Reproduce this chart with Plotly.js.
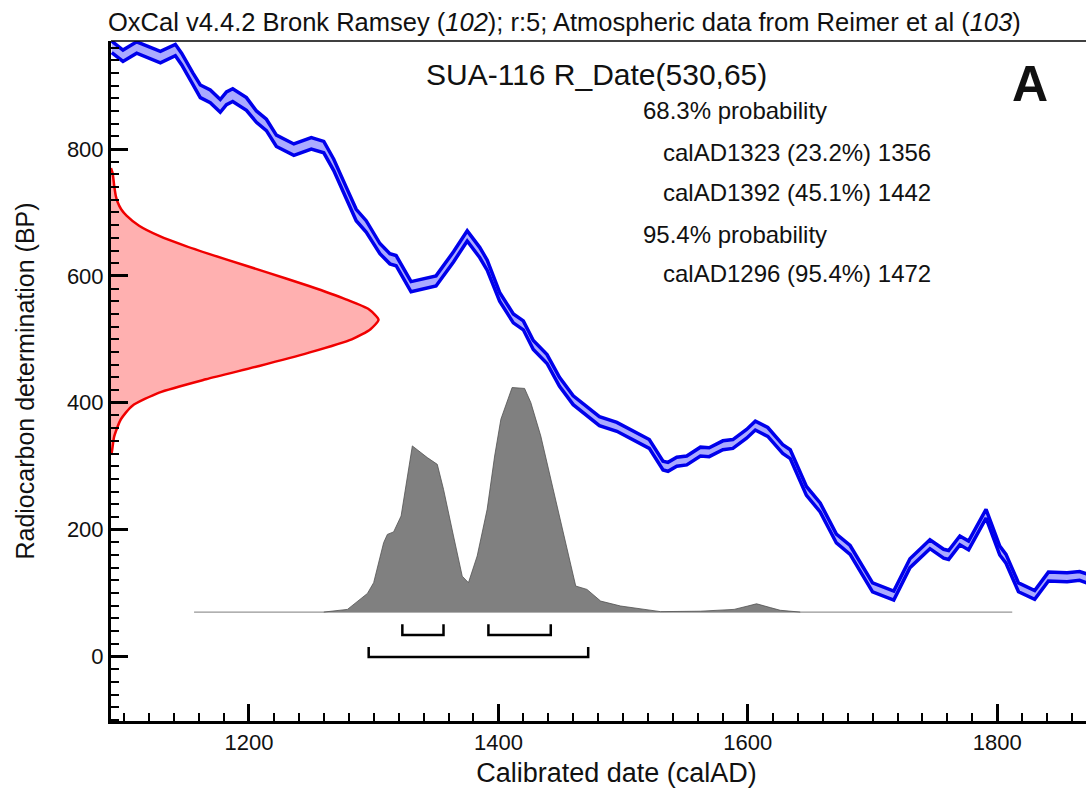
<!DOCTYPE html>
<html>
<head>
<meta charset="utf-8">
<script src="https://cdn.plot.ly/plotly-3.0.1.min.js"></script>
<style>
html,body{margin:0;padding:0;overflow:hidden;background:#fff;}
#chart{width:1122px;height:794px;}
</style>
</head>
<body>
<div id="chart"></div>
<script>
// ---- Calibration curve (IntCal, calAD vs BP, 1 sigma) ----
const calYears = [1090,1099,1110,1129,1141,1146,1155,1161,1169,1177,
  1182,1187,1198,1206,1214,1222,1236,1250,1260,1268,
  1278,1286,1294,1305,1313,1318,1330,1342,1350,1364,
  1375,1385,1391,1401,1412,1420,1428,1439,1449,1460,
  1468,1481,1495,1508,1521,1532,1536,1543,1551,1562,
  1569,1580,1588,1599,1606,1616,1628,1634,1647,1658,
  1671,1682,1700,1717,1730,1746,1757,1761,1770,1777,
  1791,1802,1807,1817,1830,1841,1856,1866,1872];
const calBP = [961,947,960,945,956,942,911,891,883,868,
  880,885,871,851,838,813,799,809,803,775,
  731,696,678,643,627,624,583,588,592,630,
  663,637,617,567,533,522,491,469,433,404,
  391,371,362,349,335,301,299,307,309,323,
  322,333,335,351,364,354,327,319,261,235,
  186,168,109,96,147,177,162,160,183,175,
  225,167,154,109,97,126,125,127,123];
const calSigma = [9,9,9,9,9,9,9,10,10,10,
  10,10,10,9,9,9,9,9,9,9,
  9,9,9,8,8,8,8,8,8,8,
  8,8,8,7,7,7,7,7,7,7,
  7,7,7,7,7,7,7,7,7,7,
  7,7,7,7,7,7,7,7,7,7,
  7,7,7,7,7,7,7,7,7,7,
  7,7,7,7,7,7,7,7,7];

// ---- Radiocarbon measurement R_Date(530,65): BP vs relative probability ----
const dateBP = [770,762,742,726,716,705,695,679,663,647,626,606,584,563,547,531,516,500,479,458,437,416,395,374,347,322,318];
const dateProb = [0,0.006,0.012,0.018,0.025,0.038,0.058,0.105,0.18,0.28,0.43,0.58,0.74,0.878,0.965,1.0,0.97,0.90,0.74,0.554,0.355,0.18,0.079,0.037,0.012,0.003,0];

// ---- Calibrated probability distribution (calAD vs relative probability) ----
const postYears = [1260,1266,1279,1295,1300,1308,1311,1316,1322,1331,
  1336,1343,1351,1356,1364,1371,1376,1383,1391,1397,
  1402,1411,1421,1426,1434,1442,1453,1462,1471,1482,
  1498,1517,1530,1562,1589,1600,1607,1618,1626,1642];
const postProb = [0,0.003,0.012,0.083,0.131,0.309,0.346,0.357,0.428,0.74,
  0.717,0.688,0.658,0.547,0.339,0.16,0.131,0.25,0.458,0.695,
  0.859,1.0,0.996,0.933,0.784,0.591,0.324,0.116,0.101,0.049,
  0.027,0.012,0.002,0.004,0.012,0.027,0.037,0.02,0.008,0];
const postRange = [1156, 1812];

// ---- Highest probability ranges ----
const range68 = [[1323,1356],[1392,1442]];
const range95 = [[1296,1472]];
const range68Pct = ['23.2%','45.1%'];
const range95Pct = ['95.4%'];

// ---- axes ----
const xRange = [1089.4, 1900];
const yRange = [-101.7, 970.3];

const FONT = 'Liberation Sans, Arial, Helvetica, sans-serif';
const BLUE = 'rgb(0,0,235)';

// geometry of the plotted distributions (drawing sizes)
const postBase = 70, postHeight = 354;
const dateWidth = 214.5;

const traces = [];

// posterior baseline
traces.push({x: postRange, y: [postBase, postBase], mode: 'lines',
  line: {color: 'rgb(150,150,150)', width: 1.3}, hoverinfo: 'skip', showlegend: false});
// posterior distribution
traces.push({x: postYears, y: postProb.map(p => postBase + p * postHeight), mode: 'lines',
  fill: 'toself', fillcolor: 'rgb(128,128,128)',
  line: {color: 'rgb(80,80,80)', width: 0.8}, showlegend: false});
// radiocarbon date distribution
traces.push({x: dateProb.map(p => xRange[0] + p * dateWidth), y: dateBP, mode: 'lines',
  fill: 'toself', fillcolor: 'rgb(255,176,176)',
  line: {color: 'rgb(240,0,0)', width: 2.5, shape: 'spline', smoothing: 0.6}, showlegend: false});
// calibration curve band
traces.push({x: calYears, y: calBP.map((v, i) => v - calSigma[i]), mode: 'lines',
  line: {color: BLUE, width: 3.5}, showlegend: false});
traces.push({x: calYears, y: calBP.map((v, i) => v + calSigma[i]), mode: 'lines',
  fill: 'tonexty', fillcolor: 'rgb(170,170,255)',
  line: {color: BLUE, width: 3.5}, showlegend: false});

// range brackets
function bracket(r, level, h) {
  return {x: [r[0], r[0], r[1], r[1]], y: [level + h, level, level, level + h], mode: 'lines',
    line: {color: '#000', width: 2.5}, showlegend: false, hoverinfo: 'skip'};
}
range68.forEach(r => traces.push(bracket(r, 34, 17)));
range95.forEach(r => traces.push(bracket(r, -1, 16)));

const txt = (t, x, y, size, extra) => Object.assign({
  text: t, x: x, y: y, xref: 'x', yref: 'y', xanchor: 'left', yanchor: 'middle',
  showarrow: false, font: {family: FONT, size: size, color: '#111'}}, extra || {});

const annotations = [
  txt('SUA-116 R_Date(530,65)', 1340, 917, 30),
  txt('68.3% probability', 1514, 860, 24),
  txt('calAD' + range68[0][0] + ' (' + range68Pct[0] + ') ' + range68[0][1], 1530, 794, 24),
  txt('calAD' + range68[1][0] + ' (' + range68Pct[1] + ') ' + range68[1][1], 1530, 731, 24),
  txt('95.4% probability', 1514, 666, 24),
  txt('calAD' + range95[0][0] + ' (' + range95Pct[0] + ') ' + range95[0][1], 1530, 603, 24),
  txt('<b>A</b>', 1826, 903, 50, {xanchor: 'center', font: {family: FONT, size: 50, color: '#111'}})
];

const layout = {
  width: 1122, height: 794,
  margin: {l: 111, r: 0, t: 41, b: 73},
  paper_bgcolor: '#fff', plot_bgcolor: '#fff',
  showlegend: false,
  title: {text: 'OxCal v4.4.2 Bronk Ramsey (<i>102</i>); r:5; Atmospheric data from Reimer et al (<i>103</i>)',
    x: 108 / 1122, xanchor: 'left', xref: 'container', y: 1 - 22 / 794, yanchor: 'middle', yref: 'container',
    font: {family: FONT, size: 25.5, color: '#111'}},
  xaxis: {range: xRange, showline: true, linecolor: '#000', linewidth: 3, mirror: false,
    ticks: 'inside', ticklen: 17, tickwidth: 3, tickcolor: '#000',
    tickmode: 'linear', tick0: 0, dtick: 200,
    minor: {ticks: 'inside', ticklen: 8, tickwidth: 2, tickcolor: '#000', dtick: 20, tick0: 0},
    showgrid: false, zeroline: false,
    tickfont: {family: FONT, size: 22, color: '#111'},
    title: {text: 'Calibrated date (calAD)', font: {family: FONT, size: 27, color: '#111'}, standoff: 9}},
  yaxis: {range: yRange, showline: true, linecolor: '#000', linewidth: 3,
    ticks: 'inside', ticklen: 17, tickwidth: 3, tickcolor: '#000',
    tickmode: 'linear', tick0: 0, dtick: 200,
    minor: {ticks: 'inside', ticklen: 8, tickwidth: 2, tickcolor: '#000', dtick: 20, tick0: 0},
    showgrid: false, zeroline: false,
    tickfont: {family: FONT, size: 22, color: '#111'},
    title: {text: 'Radiocarbon determination (BP)', font: {family: FONT, size: 25, color: '#111'}, standoff: 26}},
  shapes: [{type: 'line', xref: 'paper', yref: 'paper', x0: 0, x1: 1, y0: 1, y1: 1,
    line: {color: '#000', width: 1.5}}],
  annotations: annotations
};

Plotly.newPlot('chart', traces, layout, {staticPlot: true, displayModeBar: false});
</script>
</body>
</html>
